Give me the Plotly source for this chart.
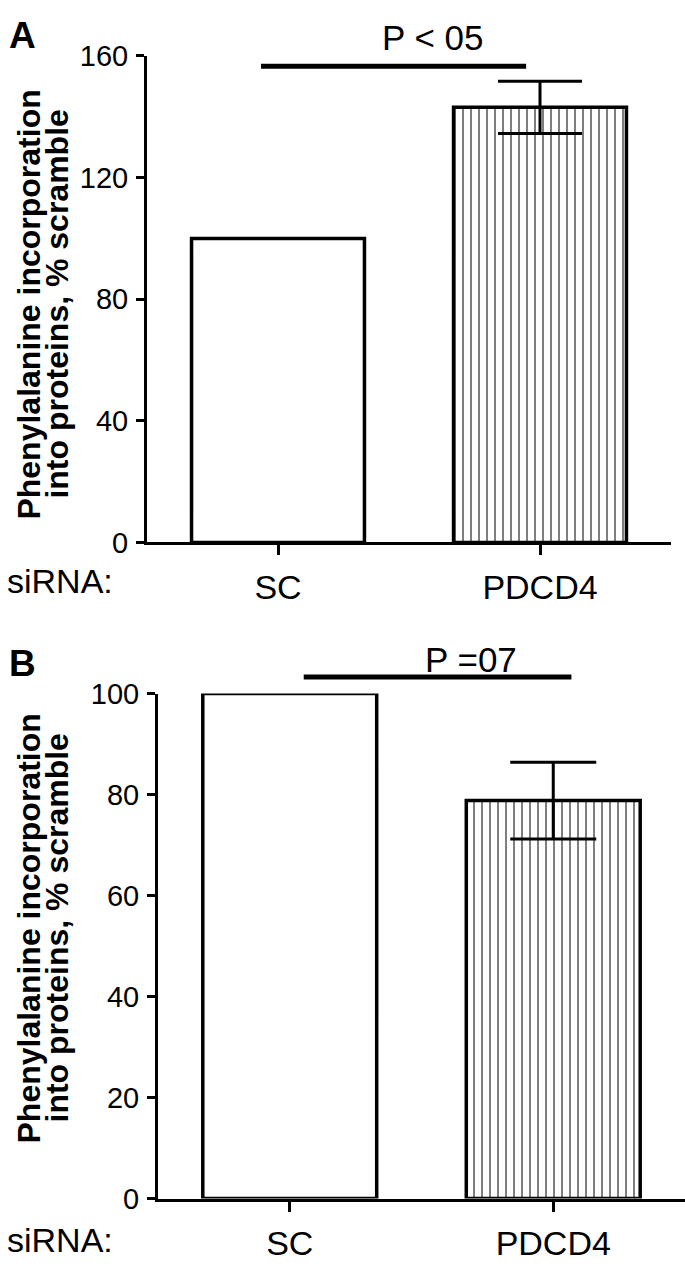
import plotly.graph_objects as go

# ---- data ----
categories = ["SC", "PDCD4"]
a_means = [100, 143.1]
a_err = [0, 8.6]
b_means = [100, 78.8]
b_err = [0, 7.6]
a_ticks = [0, 40, 80, 120, 160]
b_ticks = [0, 20, 40, 60, 80, 100]
a_ptext = "P < 05"
b_ptext = "P =07"
ytitle_line1 = "Phenylalanine incorporation"
ytitle_line2 = "into proteins, % scramble"
group_label = "siRNA:"
patterns = ["", "|"]

W, H = 685, 1275
FONT = "Liberation Sans, Arial, Helvetica, sans-serif"

def px_x(p):
    return p / W

def px_y(p):
    return 1 - p / H

# panel geometry (pixels)
A_left, A_right, A_top, A_bot = 147, 671, 41, 540
B_left, B_right, B_top, B_bot = 158, 685, 695, 1213

fig = go.Figure()

def add_panel(xa, ya, means, errs, capw):
    fig.add_trace(go.Bar(
        x=categories, y=means, width=0.66,
        marker=dict(color="white", line=dict(color="black", width=3.5),
                    pattern=dict(shape=patterns, fgcolor="black", bgcolor="white",
                                 size=8, solidity=0.25)),
        xaxis=xa, yaxis=ya, showlegend=False))
    fig.add_trace(go.Scatter(
        x=categories[1:], y=means[1:], mode="markers",
        marker=dict(size=1, color="rgba(0,0,0,0)"),
        error_y=dict(type="data", array=errs[1:], color="black", thickness=3, width=capw),
        xaxis=xa, yaxis=ya, showlegend=False, hoverinfo="skip"))

add_panel("x", "y", a_means, a_err, 42)
add_panel("x2", "y2", b_means, b_err, 43)

axis_common = dict(showline=True, linecolor="black", linewidth=3, ticks="outside",
                   tickwidth=3, tickcolor="black", showgrid=False, zeroline=False)

yfont = dict(family=FONT, size=29, color="black")
xfont = dict(family=FONT, size=34, color="black")

fig.update_layout(
    width=W, height=H, margin=dict(l=0, r=0, t=0, b=0),
    paper_bgcolor="white", plot_bgcolor="white",
    xaxis=dict(domain=[px_x(A_left), px_x(A_right)], anchor="y", range=[-0.5, 1.5],
               ticklen=10, ticklabelstandoff=3, tickfont=xfont, **axis_common),
    yaxis=dict(domain=[px_y(A_bot), px_y(A_top)], anchor="x", range=[0, 160],
               tickvals=a_ticks, ticklen=8, ticklabelstandoff=2, tickfont=yfont, **axis_common),
    xaxis2=dict(domain=[px_x(B_left), px_x(B_right)], anchor="y2", range=[-0.5, 1.5],
                ticklen=10, ticklabelstandoff=3, tickfont=xfont, **axis_common),
    yaxis2=dict(domain=[px_y(B_bot), px_y(B_top)], anchor="x2", range=[0, 100],
                tickvals=b_ticks, ticklen=8, ticklabelstandoff=2, tickfont=yfont, **axis_common),
)

# significance bars
fig.add_shape(type="line", xref="x", yref="y domain", x0=-0.065, x1=0.947,
              y0=0.979, y1=0.979, line=dict(color="black", width=5))
fig.add_shape(type="line", xref="x2", yref="y2 domain", x0=0.053, x1=1.069,
              y0=1.033, y1=1.033, line=dict(color="black", width=5))

ann = []
ann.append(dict(xref="x", yref="y domain", x=0.592, y=1.038, text=a_ptext, showarrow=False,
                font=dict(family=FONT, size=35, color="black"), yanchor="middle"))
ann.append(dict(xref="x2", yref="y2 domain", x=0.687, y=1.068, text=b_ptext, showarrow=False,
                font=dict(family=FONT, size=35, color="black"), yanchor="middle"))
# panel letters
ann.append(dict(xref="paper", yref="paper", x=px_x(7), y=px_y(20), text="<b>A</b>",
                showarrow=False, xanchor="left", yanchor="middle",
                font=dict(family=FONT, size=37, color="black")))
ann.append(dict(xref="paper", yref="paper", x=px_x(7), y=px_y(664), text="<b>B</b>",
                showarrow=False, xanchor="left", yanchor="middle",
                font=dict(family=FONT, size=37, color="black")))
# group labels
for yc in (580, 1256):
    ann.append(dict(xref="paper", yref="paper", x=px_x(5), y=px_y(yc), text=group_label,
                    showarrow=False, xanchor="left", yanchor="middle",
                    font=dict(family=FONT, size=34, color="black")))
# y titles
for yc in (296, 936):
    ann.append(dict(xref="paper", yref="paper", x=px_x(29), y=px_y(yc), text="<b>" + ytitle_line1 + "</b>",
                    showarrow=False, textangle=-90, xanchor="center", yanchor="middle",
                    font=dict(family=FONT, size=32, color="black")))
    ann.append(dict(xref="paper", yref="paper", x=px_x(57), y=px_y(yc), text="<b>" + ytitle_line2 + "</b>",
                    showarrow=False, textangle=-90, xanchor="center", yanchor="middle",
                    font=dict(family=FONT, size=32, color="black")))
fig.update_layout(annotations=ann)

fig.write_html("out.html", config={"displayModeBar": False},
               post_script="document.body.style.margin='0px';")
